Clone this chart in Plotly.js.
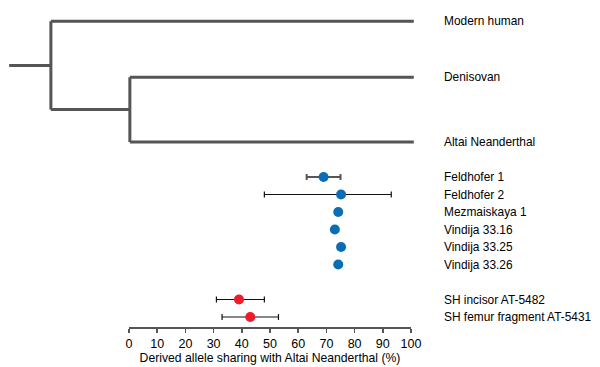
<!DOCTYPE html>
<html><head><meta charset="utf-8">
<script src="https://cdn.plot.ly/plotly-3.0.1.min.js"></script>
<style>html,body{margin:0;padding:0;background:#fff}#c{width:600px;height:367px}</style>
</head><body><div id="c"></div>
<script>
// Samples (rows) and derived-allele sharing with Altai Neanderthal (%)
const samples = ["Feldhofer 1","Feldhofer 2","Mezmaiskaya 1","Vindija 33.16","Vindija 33.25","Vindija 33.26","SH incisor AT-5482","SH femur fragment AT-5431"];
const rows    = [0,1,2,3,4,5,7,8];
const sharing = [69,75.2,74.2,73,75.2,74.2,39,43];
const errLow  = [63,48,null,null,null,null,31,33];
const errHigh = [75,93,null,null,null,null,48,53];
const group   = ["Neanderthal","Neanderthal","Neanderthal","Neanderthal","Neanderthal","Neanderthal","SH","SH"];

// Tree (schematic): tips, rows, branch depths on the same scale
const tips     = ["Modern human","Denisovan","Altai Neanderthal"];
const tipRows  = [-8.9,-5.7,-2];
const tipDepth = 101;
const rootStart = -42.5;
const split1 = -27.7;   // human vs (Denisovan, Neanderthal)
const split2 = 0.3;     // Denisovan vs Neanderthal

const xTicks = [0,10,20,30,40,50,60,70,80,90,100];

const lineCol = "#555555";
const colors = {Neanderthal:"#0b6db5", SH:"#ec1c2a"};
const traces = [];

// Tree traces
const n2y = (tipRows[1]+tipRows[2])/2;
const n1y = (tipRows[0]+n2y)/2;
const treeSegs = [
  [[rootStart,split1],[n1y,n1y]],
  [[split1,split1],[tipRows[0],n2y]],
  [[split1,tipDepth],[tipRows[0],tipRows[0]]],
  [[split1,split2],[n2y,n2y]],
  [[split2,split2],[tipRows[1],tipRows[2]]],
  [[split2,tipDepth],[tipRows[1],tipRows[1]]],
  [[split2,tipDepth],[tipRows[2],tipRows[2]]]
];
treeSegs.forEach(s=>traces.push({x:s[0],y:s[1],xaxis:"x2",yaxis:"y",mode:"lines",
  line:{color:lineCol,width:3},hoverinfo:"skip",showlegend:false,cliponaxis:false}));

// Points
samples.forEach((s,i)=>{
  const t = {x:[sharing[i]],y:[rows[i]],mode:"markers",type:"scatter",showlegend:false,cliponaxis:false,
    marker:{color:colors[group[i]],size:10},name:s};
  if(errLow[i]!==null){
    const gray = i===0;
    t.error_x={type:"data",symmetric:false,array:[errHigh[i]-sharing[i]],arrayminus:[sharing[i]-errLow[i]],
      color:gray?lineCol:"#111111",thickness:gray?2:1.2,width:3};
  }
  traces.push(t);
});

const labelFont = {family:"Liberation Sans, Arial, Helvetica, sans-serif",size:11.9,color:"#000"};
const annotations = [];
tips.forEach((t,i)=>annotations.push({text:t,x:441.5/600,xref:"paper",xanchor:"left",y:tipRows[i],yref:"y",showarrow:false,font:labelFont}));
samples.forEach((s,i)=>annotations.push({text:s,x:441.5/600,xref:"paper",xanchor:"left",y:rows[i],yref:"y",showarrow:false,font:labelFont}));

const pxPerUnit = 282/100;
const layout = {
  width:600,height:367,margin:{l:0,r:0,t:0,b:0},
  paper_bgcolor:"#fff",plot_bgcolor:"rgba(0,0,0,0)",
  font:{family:"Liberation Sans, Arial, Helvetica, sans-serif",size:12,color:"#000"},
  xaxis:{domain:[129/600,411/600],range:[0,100],tickvals:xTicks,ticks:"outside",ticklen:4,tickwidth:1.5,tickcolor:lineCol,
    showline:true,linecolor:lineCol,linewidth:2,showgrid:false,zeroline:false,anchor:"y",
    tickfont:{size:12.5},title:{text:"Derived allele sharing with Altai Neanderthal (%)",font:{size:12.2},standoff:0}},
  xaxis2:{domain:[0,1],range:[-129/pxPerUnit,(600-129)/pxPerUnit],visible:false,anchor:"y"},
  yaxis:{domain:[40/367,1],range:[8.571,-10.114],visible:false,showgrid:false,zeroline:false},
  annotations:annotations,showlegend:false
};
Plotly.newPlot("c",traces,layout,{staticPlot:true});
</script></body></html>
